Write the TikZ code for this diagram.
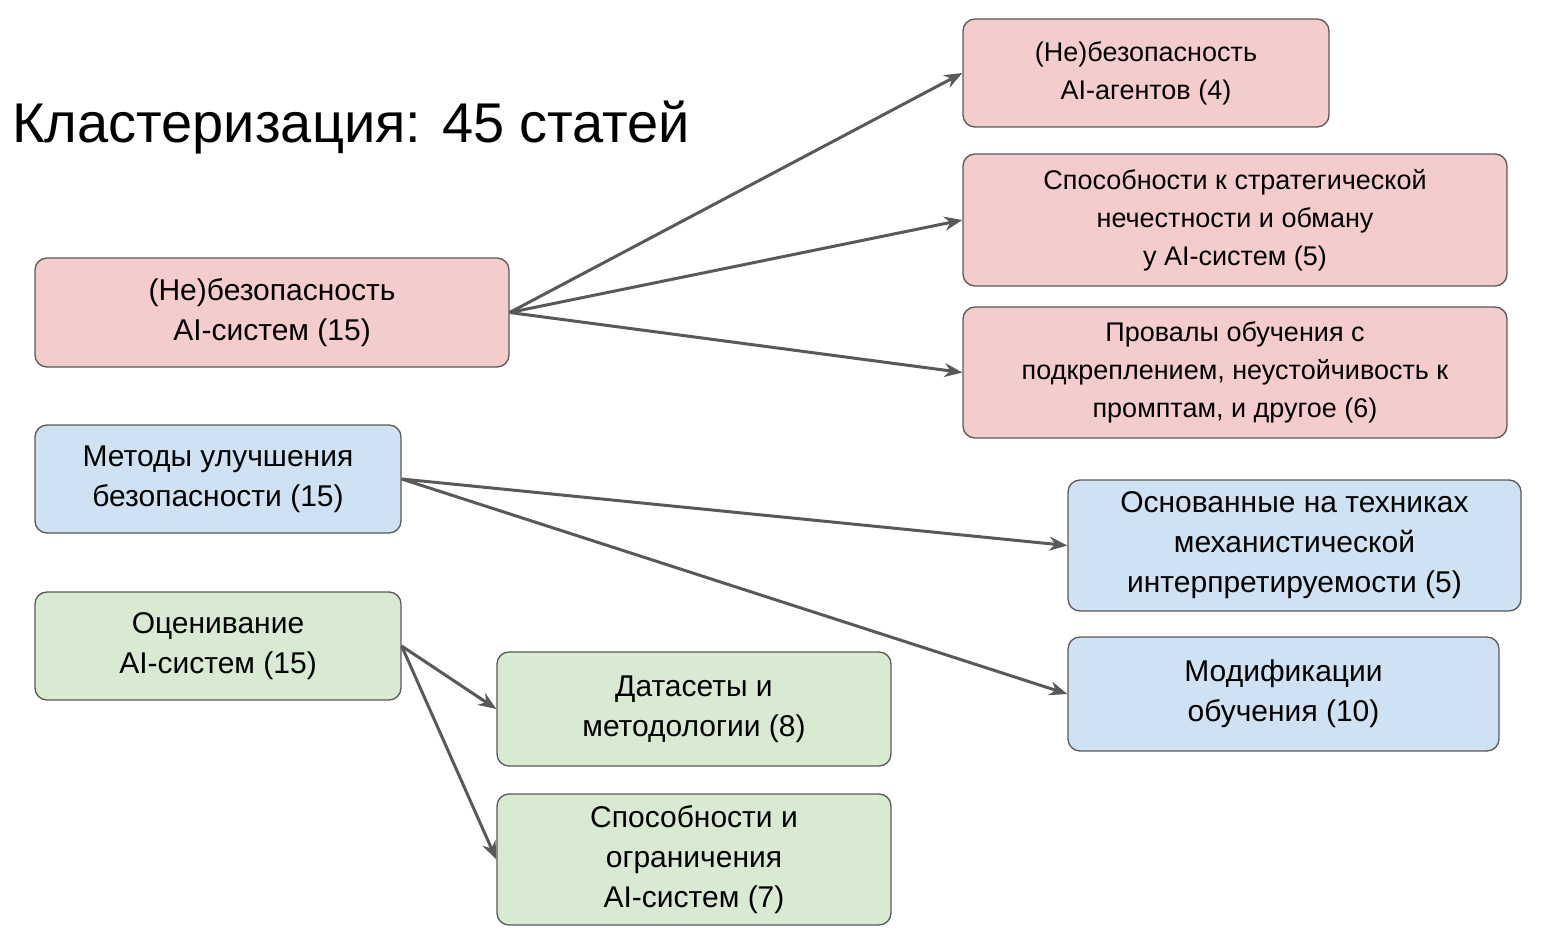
\documentclass[tikz,border=0pt]{standalone}
\usepackage{fontspec}
\setmainfont{Liberation Sans}
\usetikzlibrary{arrows.meta}
\definecolor{rf}{HTML}{F4CCCC}
\definecolor{bf}{HTML}{CFE2F3}
\definecolor{gf}{HTML}{D9EAD3}
\definecolor{ln}{HTML}{595959}
\begin{document}
\begin{tikzpicture}[x=1pt,y=-1pt,
  box/.style={draw=ln,line width=1.3pt,rounded corners=12pt,inner sep=0pt,align=center},
  t30/.style={font=\fontsize{30}{40}\selectfont},
  t27/.style={font=\fontsize{27}{38}\selectfont},
  arr/.style={draw=ln,line width=3pt,-{Stealth[length=18pt,width=14pt]}}]
\useasboundingbox (0,0) rectangle (1543,947);
\newcommand{\bx}[7]{\node[box,fill=#6,#7,minimum width={#4-#2},minimum height={#5-#3}] (#1) at ({(#2+#4)/2},{(#3+#5)/2}) {};}
\bx{A}{35}{258}{509}{367}{rf}{t30}
\bx{R1}{963}{19}{1329}{127}{rf}{t27}
\bx{R2}{963}{154}{1507}{286}{rf}{t27}
\bx{R3}{963}{307}{1507}{438}{rf}{t27}
\bx{B}{35}{425}{401}{533}{bf}{t30}
\bx{B1}{1068}{480}{1521}{611}{bf}{t30}
\bx{B2}{1068}{637}{1499}{751}{bf}{t30}
\bx{G}{35}{592}{401}{700}{gf}{t30}
\bx{G1}{497}{652}{891}{766}{gf}{t30}
\bx{G2}{497}{794}{891}{925}{gf}{t30}
\node[t30,align=center] (tA) at (A.center) {(Не)безопасность\\AI-систем (15)};
\node[t27,align=center] (tR1) at (R1.center) {(Не)безопасность\\AI-агентов (4)};
\node[t27,align=center] (tR2) at (R2.center) {Способности к стратегической\\нечестности и обману\\у AI-систем (5)};
\node[t27,align=center] (tR3) at (R3.center) {Провалы обучения с\\подкреплением, неустойчивость к\\промптам, и другое (6)};
\node[t30,align=center] (tB) at (B.center) {Методы улучшения\\безопасности (15)};
\node[t30,align=center] (tB1) at (B1.center) {Основанные на техниках\\механистической\\интерпретируемости (5)};
\node[t30,align=center] (tB2) at (B2.center) {Модификации\\обучения (10)};
\node[t30,align=center] (tG) at (G.center) {Оценивание\\AI-систем (15)};
\node[t30,align=center] (tG1) at (G1.center) {Датасеты и\\методологии (8)};
\node[t30,align=center] (tG2) at (G2.center) {Способности и\\ограничения\\AI-систем (7)};
\node[anchor=west,font=\fontsize{56}{60}\selectfont,inner sep=0pt] (title) at (12,128) {Кластеризация: 45 статей};
\draw[arr] (A.east) -- (R1.west);
\draw[arr] (A.east) -- (R2.west);
\draw[arr] (A.east) -- (R3.west);
\draw[arr] (B.east) -- (B1.west);
\draw[arr] (B.east) -- (B2.west);
\draw[arr] (G.east) -- (G1.west);
\draw[arr] (G.east) -- (G2.west);
\end{tikzpicture}
\end{document}
